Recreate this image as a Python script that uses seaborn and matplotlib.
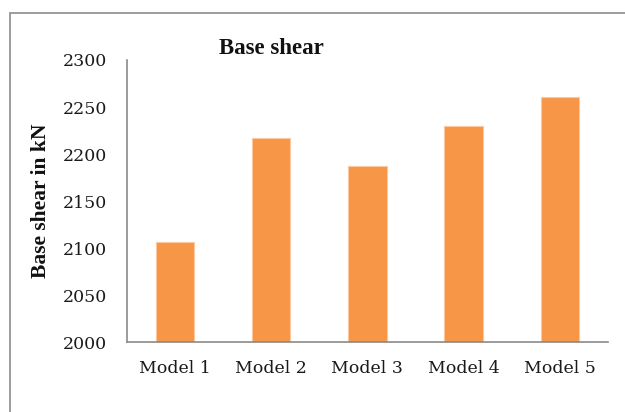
import matplotlib
matplotlib.use("Agg")
import matplotlib.pyplot as plt
from matplotlib.patches import Rectangle
import seaborn as sns
import pandas as pd

models = ["Model 1", "Model 2", "Model 3", "Model 4", "Model 5"]
base_shear = [2107, 2217, 2187, 2230, 2261]
y_ticks = [2000, 2050, 2100, 2150, 2200, 2250, 2300]

df = pd.DataFrame({"model": models, "shear": base_shear})

sns.set_theme(style="white")
plt.rcParams["font.family"] = ["DejaVu Serif"]

W, H = 625, 412
fig = plt.figure(figsize=(W / 100, H / 100), dpi=100)
ax = fig.add_axes([126.7 / W, 1 - 342.3 / H, (608 - 126.7) / W, (342.3 - 60) / H])

sns.barplot(data=df, x="model", y="shear", color="#F79646", width=0.4,
            saturation=1, edgecolor="#FAC9A0", linewidth=0.8, ax=ax)

ax.set_ylim(2000, 2300)
ax.set_yticks(y_ticks)
ax.set_xlabel("")
ax.set_ylabel("")
ax.tick_params(axis="y", length=0, pad=14, labelsize=12.5, colors="#1a1a1a")
ax.tick_params(axis="x", length=0, pad=13, labelsize=12.5, colors="#1a1a1a")

for side in ("top", "right"):
    ax.spines[side].set_visible(False)
for side in ("left", "bottom"):
    ax.spines[side].set_color("#8a8a8a")
    ax.spines[side].set_linewidth(1.2)

heading_font = ["Liberation Serif", "DejaVu Serif"]
fig.text(271 / W, 1 - 49 / H, "Base shear", ha="center", va="center",
         fontsize=16.5, fontweight="bold", family=heading_font, color="#111111")
fig.text(41 / W, 1 - 201 / H, "Base shear in kN", ha="center", va="center",
         rotation=90, fontsize=15.5, fontweight="bold", family=heading_font,
         color="#111111")

# chart-area border
fig.patches.append(Rectangle((10 / W, -0.05), 1.2, 1 - 13 / H + 0.05,
                             transform=fig.transFigure, fill=False,
                             edgecolor="#8c8c8c", linewidth=1.2))

fig.savefig("out.png", dpi=100)
